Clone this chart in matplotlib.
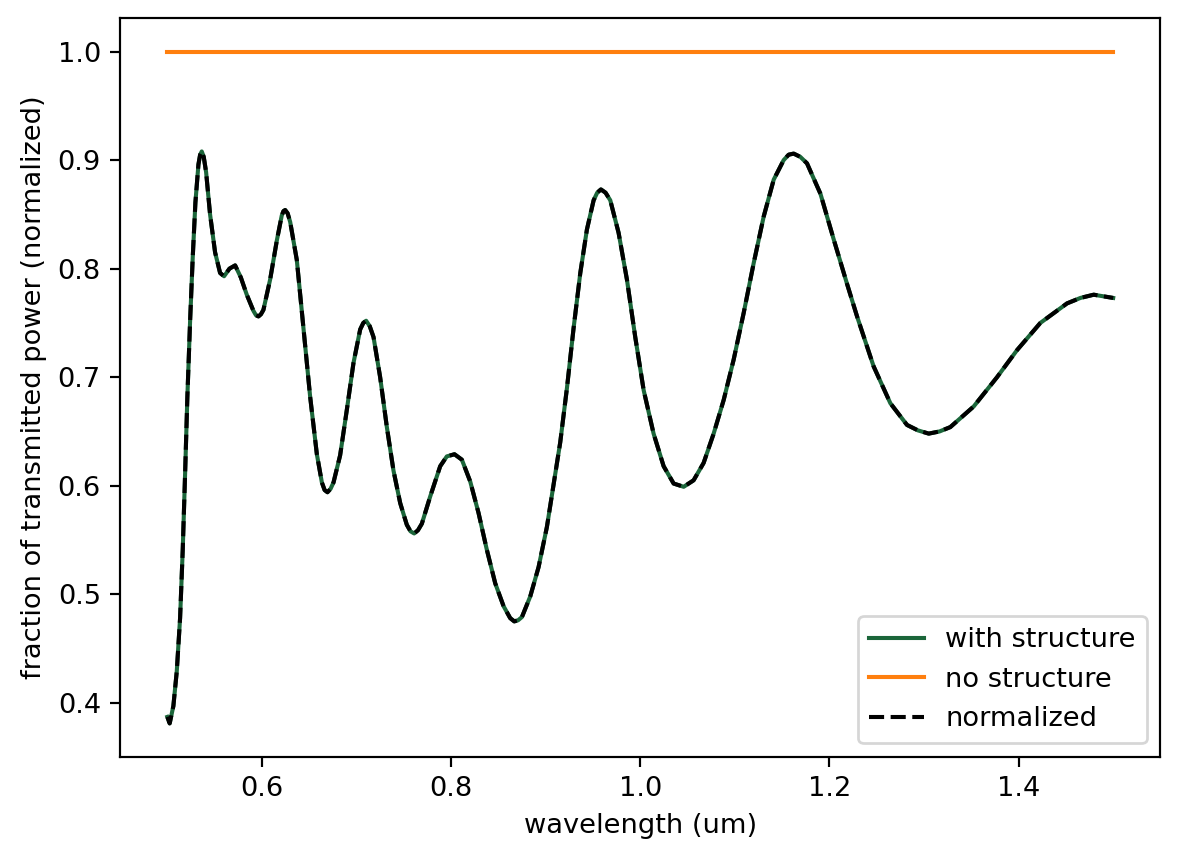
import numpy as np
import matplotlib
matplotlib.use('Agg')
import matplotlib.pyplot as plt

# wavelength (um) and transmitted power
wavelength = [0.5000, 0.5025, 0.5064, 0.5100, 0.5135, 0.5163, 0.5188, 0.5212, 0.5241, 0.5269,
              0.5297, 0.5329, 0.5347, 0.5364, 0.5385, 0.5410, 0.5452, 0.5505, 0.5558, 0.5600,
              0.5657, 0.5717, 0.5777, 0.5840, 0.5911, 0.5938, 0.5964, 0.5990, 0.6016, 0.6087,
              0.6158, 0.6210, 0.6228, 0.6246, 0.6272, 0.6299, 0.6369, 0.6440, 0.6510, 0.6581,
              0.6634, 0.6663, 0.6693, 0.6725, 0.6757, 0.6827, 0.6898, 0.6968, 0.7039, 0.7072,
              0.7102, 0.7140, 0.7180, 0.7250, 0.7321, 0.7391, 0.7462, 0.7532, 0.7571, 0.7610,
              0.7650, 0.7691, 0.7779, 0.7885, 0.7955, 0.8036, 0.8114, 0.8202, 0.8290, 0.8378,
              0.8467, 0.8555, 0.8625, 0.8668, 0.8708, 0.8749, 0.8837, 0.8925, 0.9013, 0.9101,
              0.9154, 0.9225, 0.9295, 0.9366, 0.9436, 0.9507, 0.9545, 0.9584, 0.9633, 0.9683,
              0.9771, 0.9859, 0.9947, 1.0036, 1.0141, 1.0247, 1.0353, 1.0459, 1.0564, 1.0670,
              1.0776, 1.0882, 1.0987, 1.1093, 1.1199, 1.1305, 1.1411, 1.1516, 1.1569, 1.1622,
              1.1692, 1.1763, 1.1905, 1.2045, 1.2186, 1.2292, 1.2467, 1.2644, 1.2820, 1.2935,
              1.3050, 1.3164, 1.3278, 1.3525, 1.3772, 1.3984, 1.4230, 1.4512, 1.4653, 1.4794,
              1.5000]
with_structure = [0.387, 0.381, 0.397, 0.429, 0.478, 0.541, 0.611, 0.682, 0.752, 0.811,
                  0.861, 0.896, 0.905, 0.908, 0.903, 0.889, 0.850, 0.815, 0.796, 0.793,
                  0.800, 0.803, 0.792, 0.776, 0.761, 0.757, 0.756, 0.758, 0.762, 0.790,
                  0.826, 0.849, 0.853, 0.854, 0.851, 0.843, 0.808, 0.745, 0.682, 0.629,
                  0.603, 0.596, 0.594, 0.597, 0.603, 0.628, 0.670, 0.713, 0.744, 0.750,
                  0.752, 0.747, 0.737, 0.700, 0.654, 0.614, 0.584, 0.564, 0.558, 0.556,
                  0.559, 0.565, 0.590, 0.618, 0.627, 0.629, 0.624, 0.604, 0.575, 0.541,
                  0.510, 0.489, 0.478, 0.475, 0.476, 0.479, 0.498, 0.525, 0.562, 0.611,
                  0.640, 0.690, 0.745, 0.796, 0.836, 0.863, 0.870, 0.873, 0.870, 0.863,
                  0.833, 0.790, 0.737, 0.688, 0.648, 0.618, 0.602, 0.599, 0.605, 0.621,
                  0.648, 0.679, 0.716, 0.759, 0.805, 0.848, 0.882, 0.900, 0.905, 0.906,
                  0.903, 0.897, 0.869, 0.827, 0.786, 0.756, 0.710, 0.676, 0.656, 0.651,
                  0.648, 0.650, 0.654, 0.673, 0.700, 0.725, 0.750, 0.768, 0.773, 0.776,
                  0.773]
no_structure = [1.0] * len(wavelength)
normalized = [w / n for w, n in zip(with_structure, no_structure)]

dpi = 196
fig = plt.figure(figsize=(1179 / dpi, 861 / dpi), dpi=dpi)
ax = fig.add_subplot(111)
fig.subplots_adjust(left=0.1018, right=0.9843, top=0.9791, bottom=0.1208)

ax.plot(wavelength, with_structure, color='#1b663a', label='with structure')
ax.plot(wavelength, no_structure, color='#ff7f0e', label='no structure')
ax.plot(wavelength, normalized, 'k--', label='normalized')

ax.set_xlabel('wavelength (um)')
ax.set_ylabel('fraction of transmitted power (normalized)')
ax.legend(loc='lower right')

fig.savefig('out.png', dpi=dpi)
